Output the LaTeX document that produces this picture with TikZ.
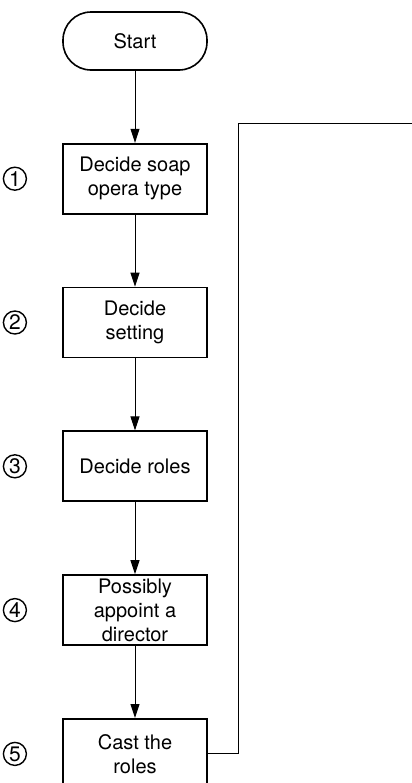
\documentclass[tikz,border=0pt]{standalone}
\usepackage{fontspec}
\setmainfont{TeX Gyre Heros}
\usetikzlibrary{arrows.meta,positioning}

\begin{document}
\begin{tikzpicture}[x=0.5pt,y=-0.5pt,
    node distance=36pt,
    every node/.style={font=\fontsize{10}{12}\selectfont},
    terminal/.style={rectangle,draw,rounded corners=14pt,minimum width=72pt,minimum height=29pt,line width=0.8pt},
    process/.style={rectangle,draw,align=center,minimum width=72pt,minimum height=35pt,inner sep=1pt,line width=0.9pt},
    stepno/.style={circle,draw,minimum size=11.5pt,inner sep=0pt,line width=0.7pt,font=\fontsize{10.5}{12}\selectfont},
    arrow/.style={-{Triangle[width=4.5pt,length=7pt]},line width=0.5pt},
    loop/.style={line width=0.5pt}
]
\useasboundingbox (0,0) rectangle (412,783);

% Start
\node[terminal] (start) at (135,41) {Start};

% Steps
\node[process,below=of start] (type) {Decide soap\\opera type};
\node[process,below=of type] (setting) {Decide\\setting};
\node[process,below=of setting] (roles) {Decide roles};
\node[process,below=of roles] (director) {Possibly\\appoint a\\director};
\node[process,below=of director] (cast) {Cast the\\roles};

% Step numbers
\node[stepno,left=17.5pt of type] (n1) {1};
\node[stepno,left=17.5pt of setting] (n2) {2};
\node[stepno,left=17.5pt of roles] (n3) {3};
\node[stepno,left=17.5pt of director] (n4) {4};
\node[stepno,left=17.5pt of cast] (n5) {5};

% Flow
\draw[arrow] (start) -- (type);
\draw[arrow] (type) -- (setting);
\draw[arrow] (setting) -- (roles);
\draw[arrow] (roles) -- (director);
\draw[arrow] (director) -- (cast);

% Loop back
\coordinate (loopend) at (412,123);
\draw[loop] (cast.east) -- ++(15.5pt,0) |- (loopend);

\end{tikzpicture}
\end{document}
